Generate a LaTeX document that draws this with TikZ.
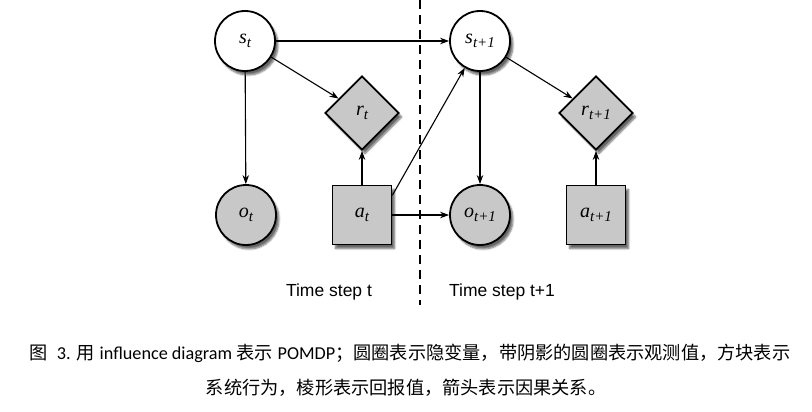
\documentclass[tikz,border=0pt]{standalone}
\usepackage{fontspec}
\setmainfont{Liberation Serif}
\newfontfamily\labelfont{Liberation Sans}
\newfontfamily\latinfont{Carlito}
\newfontfamily\cjk{Noto Sans CJK SC}
\usetikzlibrary{shapes.geometric,arrows.meta,shadows.blur}
\definecolor{nodegray}{RGB}{200,200,200}
\newcommand{\var}[2]{\itshape #1\raisebox{-4pt}{\fontsize{15}{17}\selectfont #2}}
\tikzset{
  hidden/.style={circle, draw=black, line width=1.8pt, fill=white, minimum size=60pt, inner sep=0pt,
    blur shadow={shadow xshift=3pt, shadow yshift=-4pt, shadow blur steps=6, shadow opacity=60}},
  observed/.style={hidden, fill=nodegray},
  action/.style={rectangle, draw=black, line width=1.8pt, fill=nodegray, minimum size=59pt, inner sep=0pt,
    blur shadow={shadow xshift=3pt, shadow yshift=-4pt, shadow blur steps=6, shadow opacity=60}},
  reward/.style={diamond, aspect=1, draw=black, line width=1.8pt, fill=nodegray, minimum size=74pt, inner sep=0pt,
    blur shadow={shadow xshift=3pt, shadow yshift=-4pt, shadow blur steps=6, shadow opacity=60}},
  link/.style={-{Stealth[length=9pt,width=6.5pt]}, line width=1.1pt},
  every node/.append style={font=\fontsize{20}{22}\selectfont}
}
\begin{document}
\begin{tikzpicture}[x=1pt,y=-1pt]
\useasboundingbox (0,0) rectangle (812,412);
% time step t
\node[hidden] (st) at (245,41) {\var{s}{t}};
\node[reward] (rt) at (362,113) {\var{r}{t}};
\node[observed] (ot) at (246,215) {\var{o}{t}};
\node[action] (at) at (362,215) {\var{a}{t}};
% time step t+1
\node[hidden] (st1) at (480,41) {\var{s}{t+1}};
\node[reward] (rt1) at (596,113) {\var{r}{t+1}};
\node[observed] (ot1) at (480,215) {\var{o}{t+1}};
\node[action] (at1) at (596,215) {\var{a}{t+1}};
% separator
\draw[line width=1.4pt, dash pattern=on 9pt off 6pt] (420,0) -- (420,305);
\node[font=\labelfont\fontsize{17.5}{20}\selectfont] (lt) at (329,292) {Time step t};
\node[font=\labelfont\fontsize{17.5}{20}\selectfont] (lt1) at (502,292) {Time step t+1};
% links
\draw[link] (st) -- (st1);
\draw[link] (st) -- (rt);
\draw[link] (st) -- (ot);
\draw[link] (at) -- (rt);
\draw[link] (at.33) -- (st1);
\draw[link] (at) -- (ot1);
\draw[link] (st1) -- (rt1);
\draw[link] (st1) -- (ot1);
\draw[link] (at1) -- (rt1);
% caption
\node[font=\fontsize{18.2}{22}\selectfont] (cap1) at (410,353) {{\cjk 图}\ \ {\latinfont 3.} {\cjk 用} {\latinfont influence diagram} {\cjk 表示} {\latinfont POMDP}{\cjk ；圆圈表示隐变量，带阴影的圆圈表示观测值，方块表示}};
\node[font=\fontsize{18.2}{22}\selectfont] (cap2) at (406,388) {\cjk 系统行为，棱形表示回报值，箭头表示因果关系。};
\end{tikzpicture}
\end{document}
